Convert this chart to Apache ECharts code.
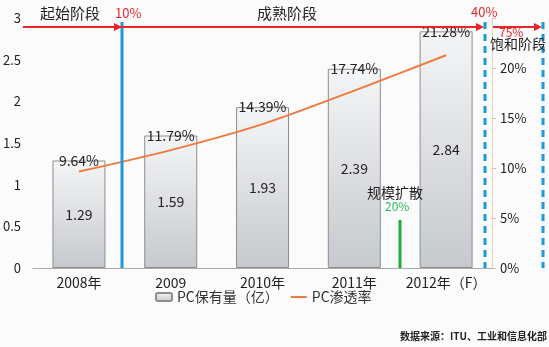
<!DOCTYPE html>
<html><head><meta charset="utf-8">
<script src="https://cdn.jsdelivr.net/npm/echarts@6/dist/echarts.min.js"></script>
<style>html,body{margin:0;padding:0;background:#fbfbfb}#c{width:549px;height:347px}</style>
</head><body><div id="c"></div>
<script>
const categories = ['2008年', '2009', '2010年', '2011年', '2012年（F）'];
const pcStock = [1.29, 1.59, 1.93, 2.39, 2.84];
const pcRate = [9.64, 11.79, 14.39, 17.74, 21.28];
const leftTicks = [0, 0.5, 1, 1.5, 2, 2.5, 3];
const rightTicks = [0, 5, 10, 15, 20, 25];

const FONT = '"Noto Sans CJK SC", "Noto Sans", sans-serif';
const chart = echarts.init(document.getElementById('c'), null, {renderer: 'canvas'});
const red = '#e8262a', blue = '#1b9ad6';
function arrowHead(x, y) {
  return {type: 'polygon', shape: {points: [[x - 8, y - 4], [x, y], [x - 8, y + 4]]}, style: {fill: red}, z: 10};
}
chart.setOption({
  backgroundColor: '#fbfbfb',
  textStyle: {fontFamily: FONT},
  animation: false,
  grid: {left: 32, right: 57, top: 18, bottom: 79, containLabel: false},
  legend: {
    data: [
      {name: 'PC保有量（亿）', icon: 'roundRect'},
      {name: 'PC渗透率', icon: 'path://M0,7 L16,7 L16,9 L0,9 Z'}
    ],
    bottom: 38, left: 150,
    itemWidth: 16, itemHeight: 8, itemGap: 12,
    textStyle: {fontSize: 14, color: '#333', fontFamily: FONT}
  },
  xAxis: {
    type: 'category', data: categories,
    axisLine: {lineStyle: {color: '#aaa'}}, axisTick: {show: false},
    axisLabel: {color: '#222', fontSize: 14, margin: 8, interval: 0}
  },
  yAxis: [
    {type: 'value', min: 0, max: 3, interval: 0.5, splitLine: {show: false},
     axisLine: {show: false}, axisTick: {show: false},
     axisLabel: {color: '#222', fontSize: 13, margin: 12,
       formatter: v => leftTicks.indexOf(v) >= 0 ? String(v) : ''}},
    {type: 'value', min: 0, max: 25, interval: 5, splitLine: {show: false},
     axisLine: {show: true, lineStyle: {color: '#e6d2c4'}},
     axisTick: {show: true, length: 4, lineStyle: {color: '#e0b8a0'}},
     axisLabel: {color: '#222', fontSize: 13, margin: 8,
       formatter: v => (v < 25 && rightTicks.indexOf(v) >= 0) ? v + '%' : ''}}
  ],
  series: [
    {name: 'PC保有量（亿）', type: 'bar', data: pcStock, barWidth: 53,
     itemStyle: {
       color: new echarts.graphic.LinearGradient(0, 0, 0, 1, [
         {offset: 0, color: '#f4f5f7'}, {offset: 1, color: '#c6c9cd'}]),
       borderColor: '#8e8e8e', borderWidth: 1},
     label: {show: true, position: 'inside', color: '#222', fontSize: 14, fontFamily: FONT,
       formatter: p => p.value.toFixed(2)}},
    {name: 'rateLabel', type: 'bar', data: pcStock, barWidth: 53, barGap: '-100%', silent: true,
     itemStyle: {color: 'rgba(0,0,0,0)'}, z: 5,
     label: {show: true, position: 'top', distance: -7, color: '#222', fontSize: 14, fontFamily: FONT,
       formatter: p => pcRate[p.dataIndex].toFixed(2) + '%'}},
    {name: 'PC渗透率', type: 'line', yAxisIndex: 1, data: pcRate, smooth: 0.3,
     symbol: 'none', lineStyle: {color: '#f07a3e', width: 2}, itemStyle: {color: '#f07a3e'}, z: 4}
  ],
  graphic: [
    {type: 'line', shape: {x1: 23, y1: 27, x2: 480, y2: 27}, style: {stroke: red, lineWidth: 2}, z: 9},
    arrowHead(122, 27), arrowHead(484, 27),
    {type: 'line', shape: {x1: 493, y1: 27, x2: 538, y2: 27}, style: {stroke: red, lineWidth: 2}, z: 9},
    arrowHead(542, 27),
    {type: 'line', shape: {x1: 122, y1: 22, x2: 122, y2: 268}, style: {stroke: blue, lineWidth: 3}, z: 8},
    {type: 'line', shape: {x1: 485, y1: 22, x2: 485, y2: 268}, style: {stroke: blue, lineWidth: 3, lineDash: [7, 5]}, z: 8},
    {type: 'line', shape: {x1: 543, y1: 22, x2: 543, y2: 268}, style: {stroke: blue, lineWidth: 3, lineDash: [7, 5]}, z: 8},
    {type: 'line', shape: {x1: 400, y1: 220, x2: 400, y2: 268}, style: {stroke: '#1aaf4a', lineWidth: 3}, z: 8},
    {type: 'text', left: 40, top: 6, style: {text: '起始阶段', fill: '#222', font: '15px ' + FONT}, z: 10},
    {type: 'text', left: 115, top: 7, style: {text: '10%', fill: red, font: '13px ' + FONT}, z: 10},
    {type: 'text', left: 257, top: 6, style: {text: '成熟阶段', fill: '#222', font: '15px ' + FONT}, z: 10},
    {type: 'text', left: 471, top: 6, style: {text: '40%', fill: red, font: '13px ' + FONT}, z: 10},
    {type: 'text', left: 499, top: 26, style: {text: '75%', fill: red, font: '12px ' + FONT}, z: 10},
    {type: 'text', left: 490, top: 37, style: {text: '饱和阶段', fill: '#222', font: '14px ' + FONT}, z: 10},
    {type: 'text', left: 367, top: 186, style: {text: '规模扩散', fill: '#222', font: '14px ' + FONT}, z: 10},
    {type: 'text', left: 385, top: 200, style: {text: '20%', fill: '#2cb85c', font: '12px ' + FONT}, z: 10},
    {type: 'text', right: 2, top: 331, style: {text: '数据来源：ITU、工业和信息化部', fill: '#222', font: 'bold 10px ' + FONT}, z: 10}
  ]
});
</script></body></html>
